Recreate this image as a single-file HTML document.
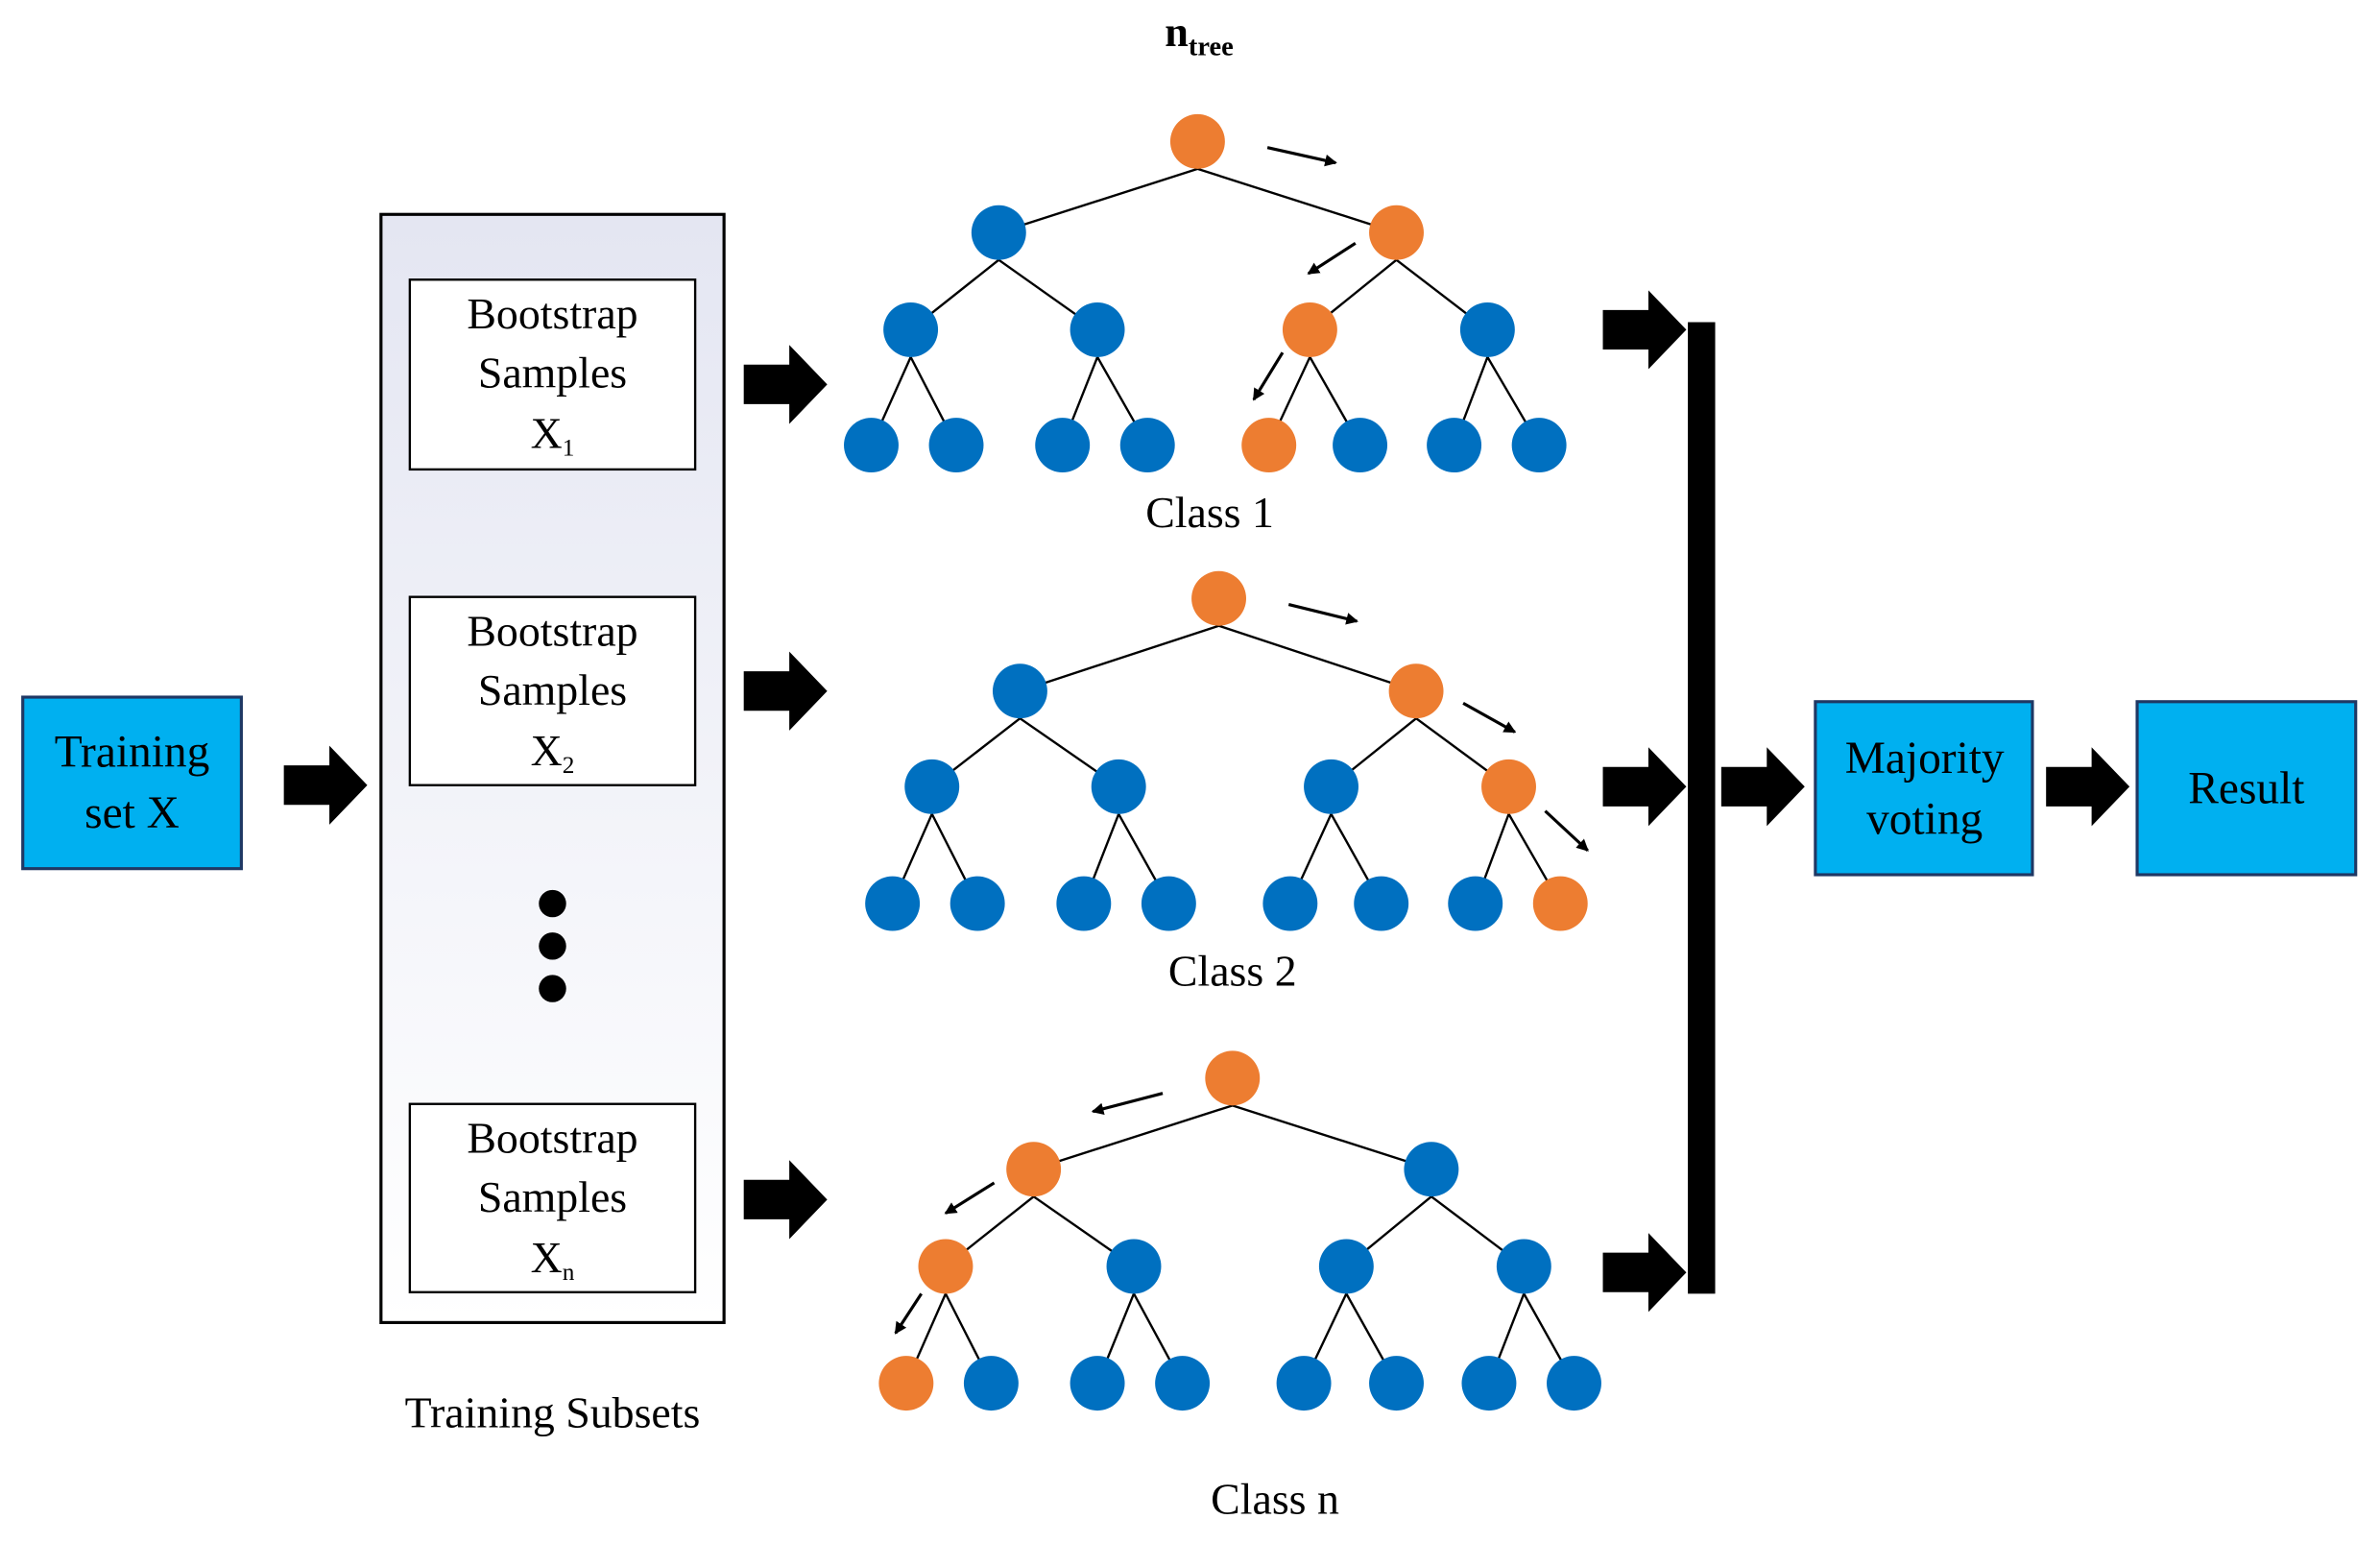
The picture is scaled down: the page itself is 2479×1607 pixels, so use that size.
<!DOCTYPE html>
<html><head><meta charset="utf-8"><style>html,body{margin:0;padding:0;background:#fff}svg{display:block}</style></head>
<body>
<svg width="2479" height="1607" viewBox="0 0 1568 1016" xmlns="http://www.w3.org/2000/svg" font-family="Liberation Serif, serif">
<defs>
<linearGradient id="g" x1="0" y1="0" x2="0" y2="1"><stop offset="0" stop-color="#e4e6f2"/><stop offset="1" stop-color="#ffffff"/></linearGradient>
<marker id="ah" markerWidth="8" markerHeight="8" refX="7" refY="4" orient="auto" markerUnits="userSpaceOnUse"><path d="M0,0 L8,4 L0,8 z" fill="#000"/></marker>
<g id="ba"><path d="M0,-13 L30,-13 L30,-26 L55,0 L30,26 L30,13 L0,13 z" fill="#000"/></g>
</defs>
<rect width="1568" height="1016" fill="#fff"/>
<text x="790" y="30" font-size="28" font-weight="bold" text-anchor="middle">n<tspan font-size="18" dy="6">tree</tspan></text>

<rect x="251" y="141" width="226" height="730" fill="url(#g)" stroke="#000" stroke-width="2"/>
<g font-size="29" text-anchor="middle" fill="#000">
<rect x="270" y="184" width="188" height="125" fill="#fff" stroke="#000" stroke-width="1.5"/>
<text x="364" y="216">Bootstrap</text><text x="364" y="255">Samples</text><text x="364" y="295">X<tspan font-size="16" dy="5">1</tspan></text>
<rect x="270" y="393" width="188" height="124" fill="#fff" stroke="#000" stroke-width="1.5"/>
<text x="364" y="425">Bootstrap</text><text x="364" y="464">Samples</text><text x="364" y="504">X<tspan font-size="16" dy="5">2</tspan></text>
<rect x="270" y="727" width="188" height="124" fill="#fff" stroke="#000" stroke-width="1.5"/>
<text x="364" y="759">Bootstrap</text><text x="364" y="798">Samples</text><text x="364" y="838">X<tspan font-size="16" dy="5">n</tspan></text>
<text x="364" y="940">Training Subsets</text>
<text x="797" y="347">Class 1</text><text x="812" y="649">Class 2</text><text x="840" y="997">Class n</text>
</g>
<circle cx="364" cy="595" r="9" fill="#000"/><circle cx="364" cy="623" r="9" fill="#000"/><circle cx="364" cy="651" r="9" fill="#000"/>

<g stroke="#1f3864" stroke-width="2" fill="#00B0F0">
<rect x="15" y="459" width="144" height="113"/><rect x="1196" y="462" width="143" height="114"/><rect x="1408" y="462" width="144" height="114"/>
</g>
<g font-size="30" text-anchor="middle" fill="#000">
<text x="87" y="505">Training</text><text x="87" y="545">set X</text>
<text x="1268" y="509">Majority</text><text x="1268" y="549">voting</text>
<text x="1480" y="529">Result</text>
</g>

<use href="#ba" x="187" y="517"/><use href="#ba" x="490" y="253"/><use href="#ba" x="490" y="455"/><use href="#ba" x="490" y="790"/>
<use href="#ba" x="1056" y="217"/><use href="#ba" x="1056" y="518"/><use href="#ba" x="1056" y="838"/>
<use href="#ba" x="1134" y="518"/><use href="#ba" x="1348" y="518"/>
<rect x="1112" y="212" width="18" height="640" fill="#000"/>

<g stroke="#000" stroke-width="1.5">
<path d="M789,111 L658,153 M789,111 L920,153 M658,171 L600,217 M658,171 L723,217 M920,171 L863,217 M920,171 L980,217 M600,235 L574,293 M600,235 L630,293 M723,235 L700,293 M723,235 L756,293 M863,235 L836,293 M863,235 L896,293 M980,235 L958,293 M980,235 L1014,293"/>
<path d="M803,412 L672,455 M803,412 L933,455 M672,473 L614,518 M672,473 L737,518 M933,473 L877,518 M933,473 L994,518 M614,536 L588,595 M614,536 L644,595 M737,536 L714,595 M737,536 L770,595 M877,536 L850,595 M877,536 L910,595 M994,536 L972,595 M994,536 L1028,595"/>
<path d="M812,728 L681,770 M812,728 L943,770 M681,788 L623,834 M681,788 L747,834 M943,788 L887,834 M943,788 L1004,834 M623,852 L597,911 M623,852 L653,911 M747,852 L723,911 M747,852 L779,911 M887,852 L859,911 M887,852 L920,911 M1004,852 L981,911 M1004,852 L1037,911"/>
</g>
<g stroke="#000" stroke-width="2" marker-end="url(#ah)">
<line x1="835" y1="97" x2="880" y2="107"/><line x1="893" y1="160" x2="862" y2="180"/><line x1="845" y1="232" x2="826" y2="263"/>
<line x1="849" y1="398" x2="894" y2="409"/><line x1="964" y1="463" x2="998" y2="482"/><line x1="1018" y1="534" x2="1046" y2="560"/>
<line x1="766" y1="720" x2="720" y2="732"/><line x1="655" y1="779" x2="623" y2="799"/><line x1="607" y1="852" x2="590" y2="878"/>
</g>
<g fill="#0070C0">
<circle cx="658" cy="153" r="18"/><circle cx="600" cy="217" r="18"/><circle cx="723" cy="217" r="18"/><circle cx="980" cy="217" r="18"/>
<circle cx="574" cy="293" r="18"/><circle cx="630" cy="293" r="18"/><circle cx="700" cy="293" r="18"/><circle cx="756" cy="293" r="18"/><circle cx="896" cy="293" r="18"/><circle cx="958" cy="293" r="18"/><circle cx="1014" cy="293" r="18"/>
<circle cx="672" cy="455" r="18"/><circle cx="614" cy="518" r="18"/><circle cx="737" cy="518" r="18"/><circle cx="877" cy="518" r="18"/>
<circle cx="588" cy="595" r="18"/><circle cx="644" cy="595" r="18"/><circle cx="714" cy="595" r="18"/><circle cx="770" cy="595" r="18"/><circle cx="850" cy="595" r="18"/><circle cx="910" cy="595" r="18"/><circle cx="972" cy="595" r="18"/>
<circle cx="943" cy="770" r="18"/><circle cx="747" cy="834" r="18"/><circle cx="887" cy="834" r="18"/><circle cx="1004" cy="834" r="18"/>
<circle cx="653" cy="911" r="18"/><circle cx="723" cy="911" r="18"/><circle cx="779" cy="911" r="18"/><circle cx="859" cy="911" r="18"/><circle cx="920" cy="911" r="18"/><circle cx="981" cy="911" r="18"/><circle cx="1037" cy="911" r="18"/>
</g>
<g fill="#ED7D31">
<circle cx="789" cy="93" r="18"/><circle cx="920" cy="153" r="18"/><circle cx="863" cy="217" r="18"/><circle cx="836" cy="293" r="18"/>
<circle cx="803" cy="394" r="18"/><circle cx="933" cy="455" r="18"/><circle cx="994" cy="518" r="18"/><circle cx="1028" cy="595" r="18"/>
<circle cx="812" cy="710" r="18"/><circle cx="681" cy="770" r="18"/><circle cx="623" cy="834" r="18"/><circle cx="597" cy="911" r="18"/>
</g>
</svg>
</body></html>
